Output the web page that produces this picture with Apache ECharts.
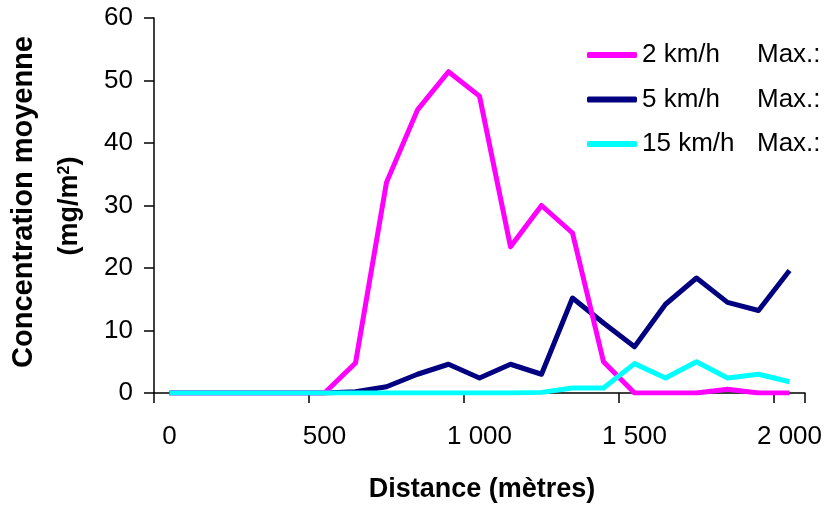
<!DOCTYPE html>
<html>
<head>
<meta charset="utf-8">
<script src="https://cdn.jsdelivr.net/npm/echarts@6/dist/echarts.min.js"></script>
<style>
html,body{margin:0;padding:0;background:#fff;}
#chart{width:826px;height:508px;}
</style>
</head>
<body>
<div id="chart"></div>
<script>
const distances = [0,100,200,300,400,500,600,700,800,900,1000,1100,1200,1300,1400,1500,1600,1700,1800,1900,2000];
const tickValues = [0,500,1000,1500,2000];
const tickLabels = ['0','500','1 000','1 500','2 000'];
const yTicks = [0,10,20,30,40,50,60];
const seriesNames = ['2 km/h','5 km/h','15 km/h'];
const v2kmh = [0,0,0,0,0,0,4.8,33.7,45.3,51.4,47.5,23.4,30.0,25.6,5.0,0,0,0,0.6,0,0];
const v5kmh = [0,0,0,0,0,0,0.2,1.0,3.0,4.6,2.4,4.6,3.0,15.2,11.2,7.4,14.2,18.4,14.5,13.2,19.6];
const v15kmh = [0,0,0,0,0,0,0,0,0,0,0,0,0.1,0.8,0.8,4.7,2.4,5.0,2.4,3.0,1.8];
const colors = ['#FF00FF','#000080','#00FFFF'];

const chart = echarts.init(document.getElementById('chart'));
const FONT = '"Liberation Sans", Arial, sans-serif';

function mkSeries(name, data, color, z){
  return {
    name: name, type: 'line', data: data, symbol: 'none', showSymbol: false,
    z: z, animation: false,
    lineStyle: {color: color, width: 5, join: 'round'},
    itemStyle: {color: color}
  };
}

chart.setOption({
  animation: false,
  backgroundColor: '#fff',
  textStyle: {fontFamily: FONT},
  grid: {left: 154, right: 21, top: 18, bottom: 115, containLabel: false},
  xAxis: {
    type: 'category',
    data: distances.map(String),
    boundaryGap: true,
    axisLine: {show: true, lineStyle: {color: '#000', width: 1.5}},
    axisTick: {show: true, interval: 4, length: 10, inside: false, lineStyle: {color: '#000', width: 1.5}},
    axisLabel: {
      interval: 4, margin: 31, color: '#000', fontSize: 26, fontFamily: FONT,
      formatter: function(v){ const i = tickValues.indexOf(Number(v)); return i >= 0 ? tickLabels[i] : ''; }
    },
    splitLine: {show: false}
  },
  yAxis: {
    type: 'value', min: 0, max: 60, interval: 10,
    axisLine: {show: true, lineStyle: {color: '#000', width: 1.5}},
    axisTick: {show: true, length: 10, inside: false, lineStyle: {color: '#000', width: 1.5}},
    axisLabel: {margin: 21, color: '#000', fontSize: 26, fontFamily: FONT,
      formatter: function(v){ return yTicks.indexOf(v) >= 0 ? String(v) : ''; }},
    splitLine: {show: false}
  },
  legend: {
    orient: 'vertical', left: 582, top: 35,
    data: seriesNames,
    icon: 'roundRect', itemWidth: 50, itemHeight: 6, itemGap: 14.5,
    selectedMode: false,
    textStyle: {
      color: '#000', fontSize: 26, fontFamily: FONT, lineHeight: 30,
      rich: {
        a: {width: 115, fontSize: 26, fontFamily: FONT, color: '#000', lineHeight: 30},
        b: {fontSize: 26, fontFamily: FONT, color: '#000', lineHeight: 30}
      }
    },
    formatter: function(name){ return '{a|' + name + '}{b|Max.:}'; }
  },
  graphic: [
    {type: 'text', x: 24, y: 202, rotation: Math.PI/2,
     style: {text: 'Concentration moyenne', font: 'bold 29px ' + FONT, fill: '#000', align: 'center', verticalAlign: 'middle'}},
    {type: 'text', x: 70, y: 206, rotation: Math.PI/2,
     style: {text: '(mg/m{sup|2})', font: 'bold 27px ' + FONT, fill: '#000', align: 'center', verticalAlign: 'middle',
       rich: {sup: {font: 'bold 16px ' + FONT, fill: '#000', verticalAlign: 'top'}}}},
    {type: 'text', x: 482, y: 490,
     style: {text: 'Distance (mètres)', font: 'bold 27px ' + FONT, fill: '#000', align: 'center', verticalAlign: 'middle'}}
  ],
  series: [
    mkSeries(seriesNames[0], v2kmh, colors[0], 3),
    mkSeries(seriesNames[1], v5kmh, colors[1], 2),
    mkSeries(seriesNames[2], v15kmh, colors[2], 4)
  ]
});
</script>
</body>
</html>
